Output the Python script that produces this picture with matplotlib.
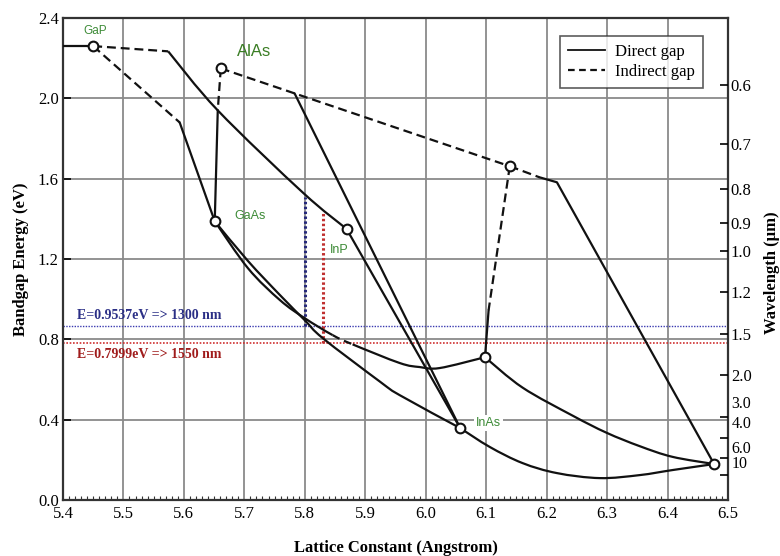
import matplotlib
matplotlib.use("Agg")
import matplotlib.pyplot as plt
from matplotlib.lines import Line2D
from matplotlib.path import Path
from matplotlib.patches import PathPatch
import numpy as np

# ---------------- data ----------------
compounds = ["GaP", "AlAs", "GaAs", "InP", "InAs", "AlSb", "GaSb", "InSb"]
lattice = [5.450, 5.661, 5.651, 5.869, 6.057, 6.139, 6.098, 6.477]
bandgap = [2.260, 2.149, 1.388, 1.350, 0.358, 1.662, 0.711, 0.179]

# direct-gap (solid) curves
gap_left_x = [5.400, 5.450]
gap_left_y = [2.260, 2.260]
gap_inp_x = [5.574, 5.656, 5.797, 5.869]
gap_inp_y = [2.234, 1.940, 1.530, 1.350]
gap_gaas_x = [5.593, 5.651]
gap_gaas_y = [1.880, 1.388]
alas_gaas_x = [5.656, 5.651]
alas_gaas_y = [1.940, 1.388]
alas_inas_x = [5.783, 6.057]
alas_inas_y = [2.025, 0.358]
inp_inas_x = [5.869, 6.057]
inp_inas_y = [1.350, 0.358]
ingaas_x = [5.651, 5.706, 5.759, 5.800, 5.830, 5.924, 5.957, 6.057]
ingaas_y = [1.388, 1.190, 1.020, 0.895, 0.805, 0.590, 0.522, 0.358]
gaassb_a_x = [5.651, 5.706, 5.759, 5.800, 5.846]
gaassb_a_y = [1.388, 1.154, 0.995, 0.905, 0.821]
gaassb_b_x = [5.879, 5.957, 5.990, 6.023, 6.098]
gaassb_b_y = [0.775, 0.682, 0.662, 0.657, 0.711]
gasb_insb_x = [6.098, 6.160, 6.243, 6.299, 6.354, 6.408, 6.477]
gasb_insb_y = [0.711, 0.560, 0.420, 0.335, 0.268, 0.215, 0.179]
inas_insb_x = [6.057, 6.106, 6.160, 6.217, 6.288, 6.354, 6.408, 6.477]
inas_insb_y = [0.358, 0.264, 0.184, 0.134, 0.109, 0.124, 0.149, 0.179]
alsb_insb_x = [6.188, 6.217, 6.477]
alsb_insb_y = [1.607, 1.582, 0.179]
alsb_gasb_x = [6.104, 6.098]
alsb_gasb_y = [0.945, 0.711]

# indirect-gap (dashed) curves
ind_gap_inp_x = [5.450, 5.574]
ind_gap_inp_y = [2.260, 2.234]
ind_gap_gaas_x = [5.450, 5.593]
ind_gap_gaas_y = [2.260, 1.880]
ind_alas_gaas_x = [5.661, 5.656]
ind_alas_gaas_y = [2.149, 1.940]
ind_alas_alsb_x = [5.661, 6.139]
ind_alas_alsb_y = [2.149, 1.662]
ind_alsb_insb_x = [6.139, 6.188]
ind_alsb_insb_y = [1.662, 1.607]
ind_alsb_gasb_x = [6.139, 6.104]
ind_alsb_gasb_y = [1.662, 0.945]
ind_gaassb_x = [5.846, 5.879]
ind_gaassb_y = [0.821, 0.775]

# telecom markers
e1300 = 0.866
e1550 = 0.783
a1300 = 5.800
a1550 = 5.830
v1300_top = 1.510
v1550_top = 1.435
label_1300 = "E=0.9537eV => 1300 nm"
label_1550 = "E=0.7999eV => 1550 nm"

# axes ticks
x_ticks = [5.4, 5.5, 5.6, 5.7, 5.8, 5.9, 6.0, 6.1, 6.2, 6.3, 6.4, 6.5]
y_ticks = [0.0, 0.4, 0.8, 1.2, 1.6, 2.0, 2.4]
wavelengths = [0.6, 0.7, 0.8, 0.9, 1.0, 1.2, 1.5, 2.0, 3.0, 4.0, 6.0, 10]
wl_labels = ["0.6", "0.7", "0.8", "0.9", "1.0", "1.2", "1.5", "2.0", "3.0", "4.0", "6.0", "10"]


def smooth_path(xs, ys, prev=None, nxt=None):
    """Catmull-Rom curve through the read points, drawn as cubic Bezier by matplotlib."""
    pts = np.column_stack([xs, ys]).astype(float)
    p_prev = np.array(prev, float) if prev is not None else pts[0]
    p_next = np.array(nxt, float) if nxt is not None else pts[-1]
    ext = np.vstack([p_prev, pts, p_next])
    verts = [pts[0]]
    codes = [Path.MOVETO]
    for i in range(1, len(ext) - 2):
        p0, p1, p2, p3 = ext[i - 1], ext[i], ext[i + 1], ext[i + 2]
        verts += [p1 + (p2 - p0) / 6.0, p2 - (p3 - p1) / 6.0, p2]
        codes += [Path.CURVE4] * 3
    return Path(verts, codes)


# ---------------- figure ----------------
SERIF = ["Liberation Serif", "DejaVu Serif"]
SANS = ["Liberation Sans", "DejaVu Sans"]
fig = plt.figure(figsize=(7.8, 5.56), dpi=100)
ax = fig.add_axes([63/780, 1-500/556, 665/780, 482/556])
ax.set_xlim(5.4, 6.5)
ax.set_ylim(0.0, 2.4)

grid_c = "#8a8a8a"
for xv in x_ticks[1:-1]:
    ax.axvline(xv, color=grid_c, lw=1.3, zorder=1)
for yv in y_ticks[1:-1]:
    ax.axhline(yv, color=grid_c, lw=1.3, zorder=1)

LW = 1.6
lc = "#111111"
straight = [(gap_left_x, gap_left_y), (gap_gaas_x, gap_gaas_y),
            (alas_gaas_x, alas_gaas_y), (alas_inas_x, alas_inas_y), (inp_inas_x, inp_inas_y),
            (alsb_insb_x, alsb_insb_y), (alsb_gasb_x, alsb_gasb_y)]
for xs, ys in straight:
    ax.plot(xs, ys, color=lc, lw=LW, solid_capstyle="round", solid_joinstyle="round", zorder=3)

curved = [
    (gap_inp_x, gap_inp_y, None, None, "-"),
    (ingaas_x, ingaas_y, None, None, "-"),
    (gaassb_a_x, gaassb_a_y, None, (ind_gaassb_x[1], ind_gaassb_y[1]), "-"),
    (ind_gaassb_x, ind_gaassb_y, (gaassb_a_x[-2], gaassb_a_y[-2]), (gaassb_b_x[1], gaassb_b_y[1]), "--"),
    (gaassb_b_x, gaassb_b_y, (ind_gaassb_x[0], ind_gaassb_y[0]), None, "-"),
    (gasb_insb_x, gasb_insb_y, None, None, "-"),
    (inas_insb_x, inas_insb_y, None, None, "-"),
]
for xs, ys, pv, nx, st in curved:
    patch = PathPatch(smooth_path(xs, ys, pv, nx), facecolor="none", edgecolor=lc, lw=LW,
                      capstyle="butt", zorder=3)
    if st == "--":
        patch.set_linestyle((0, (3.5, 2.2)))
    ax.add_patch(patch)

dashed = [(ind_gap_inp_x, ind_gap_inp_y), (ind_gap_gaas_x, ind_gap_gaas_y),
          (ind_alas_gaas_x, ind_alas_gaas_y), (ind_alas_alsb_x, ind_alas_alsb_y),
          (ind_alsb_insb_x, ind_alsb_insb_y), (ind_alsb_gasb_x, ind_alsb_gasb_y)]
for xs, ys in dashed:
    ax.plot(xs, ys, color=lc, lw=LW, dashes=(4, 2.2), zorder=3)

# telecom lines
blue = "#2b2f86"
red = "#a01c1c"
ax.axhline(e1300, color="#3a3ab0", lw=1.0, ls=(0, (1, 1)), zorder=2)
ax.axhline(e1550, color="#d03030", lw=1.2, ls=(0, (1, 1)), zorder=2)
ax.plot([a1300, a1300], [e1300, v1300_top], color="#25287a", lw=2.2, ls=(0, (0.8, 0.8)), zorder=2)
ax.plot([a1550, a1550], [e1550, v1550_top], color="#c03030", lw=2.2, ls=(0, (0.8, 0.8)), zorder=2)
ax.text(5.423, e1300 + 0.022, label_1300, color=blue, fontsize=10, fontweight="bold",
        family=SERIF, ha="left", va="bottom", zorder=4)
ax.text(5.423, e1550 - 0.025, label_1550, color=red, fontsize=10, fontweight="bold",
        family=SERIF, ha="left", va="top", zorder=4)

# compound markers
ax.plot(lattice, bandgap, "o", ms=7, mfc="white", mec=lc, mew=1.5, zorder=5, ls="none")

green = "#3d8b37"
ax.text(5.434, 2.333, "GaP", color=green, fontsize=8.5, family=SANS, ha="left", va="center")
ax.text(5.687, 2.235, "AlAs", color="#3a7d24", fontsize=12, family=SANS, ha="left", va="center")
ax.text(5.684, 1.413, "GaAs", color=green, fontsize=9, family=SANS, ha="left", va="center")
ax.text(5.841, 1.245, "InP", color=green, fontsize=9, family=SANS, ha="left", va="center")
ax.text(6.083, 0.385, "InAs", color=green, fontsize=9, family=SANS, ha="left", va="center",
        bbox=dict(facecolor="white", edgecolor="none", pad=1.5), zorder=4)

# axes styling
ax.set_xticks(x_ticks)
ax.set_xticklabels([f"{v:.1f}" for v in x_ticks], family=SERIF, fontsize=12)
ax.set_yticks(y_ticks)
ax.set_yticklabels([f"{v:.1f}" for v in y_ticks], family=SERIF, fontsize=12)
ax.set_xticks(np.arange(5.4, 6.5001, 0.01), minor=True)
ax.tick_params(axis="x", which="major", direction="in", length=0, pad=4)
ax.tick_params(axis="x", which="minor", direction="in", length=3, width=0.8, color="#333333")
ax.tick_params(axis="y", which="major", direction="in", length=6, width=1.2, pad=3)
ax.tick_params(top=False, right=False)
for s in ax.spines.values():
    s.set_linewidth(1.6)
    s.set_color("#333333")

ax.set_xlabel("Lattice Constant (Angstrom)", family=SERIF, fontsize=12, fontweight="bold", labelpad=13)
ax.set_ylabel("Bandgap Energy (eV)", family=SERIF, fontsize=12, fontweight="bold", labelpad=6)

ax2 = ax.twinx()
ax2.set_ylim(0.0, 2.4)
wl_E = [1.24 / w for w in wavelengths]
ax2.set_yticks(wl_E)
n_direct = 8
ax2.set_yticklabels(wl_labels[:n_direct] + [""] * (len(wl_labels) - n_direct), family=SERIF, fontsize=12)
ax2.tick_params(axis="y", direction="in", length=6, width=1.2, pad=2)
for s in ax2.spines.values():
    s.set_visible(False)
# crowded long-wavelength labels placed between ticks
wl_label_E = [0.476, 0.380, 0.256, 0.180]
for lab, ev in zip(wl_labels[n_direct:], wl_label_E):
    ax2.text(1.005, ev, lab, transform=ax2.get_yaxis_transform(), family=SERIF, fontsize=11.5,
             ha="left", va="center")
fig.text(0.99, 0.509, "Wavelength (\u00b5m)", rotation=90, family=SERIF, fontsize=12,
         fontweight="bold", ha="center", va="center")

leg_handles = [Line2D([], [], color=lc, lw=1.3, label="Direct gap"),
               Line2D([], [], color=lc, lw=1.6, dashes=(3, 2), label="Indirect gap")]
leg = ax.legend(handles=leg_handles, loc="upper right", bbox_to_anchor=(0.962, 0.963),
                prop={"family": SERIF, "size": 12}, frameon=True, fancybox=False,
                handlelength=2.2, borderpad=0.5, labelspacing=0.2, handletextpad=0.6,
                borderaxespad=0.0)
leg.get_frame().set_edgecolor("#333333")
leg.get_frame().set_linewidth(1.2)
leg.set_zorder(6)

fig.savefig("out.png", dpi=100)
